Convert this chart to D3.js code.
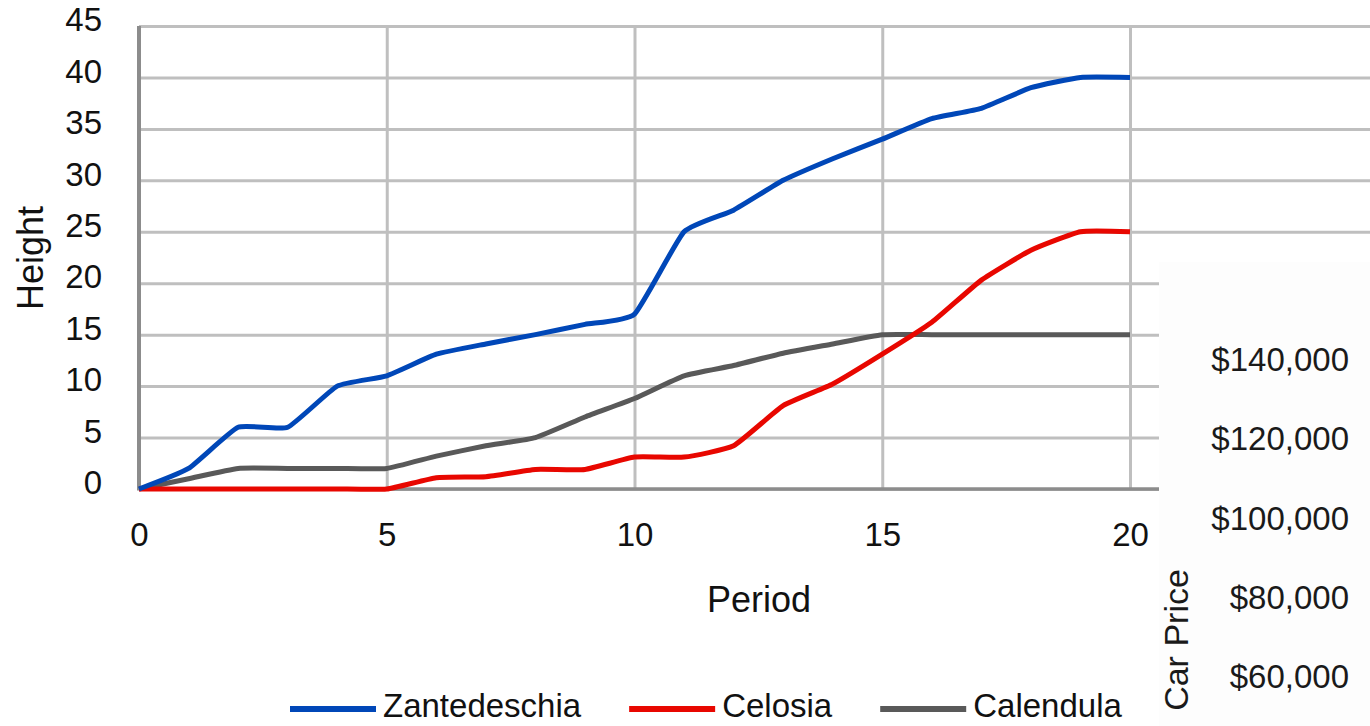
<!DOCTYPE html>
<html>
<head>
<meta charset="utf-8">
<script src="https://cdn.jsdelivr.net/npm/d3@7"></script>
<style>
  html, body { margin: 0; padding: 0; background: #ffffff; }
  svg { display: block; font-family: "Liberation Sans", Arial, sans-serif; }
</style>
</head>
<body>
<svg id="chart" width="1370" height="726"></svg>
<script>
// ---- data ----
const periods = [0,1,2,3,4,5,6,7,8,9,10,11,12,13,14,15,16,17,18,19,20];
const zantedeschia = [0,2,6,6,10,11,13.1,14.1,15,16,17,25,27.1,30,32.1,34,36,37,39,40,40];
const celosia      = [0,0,0,0,0,0,1.1,1.2,1.9,1.9,3.1,3.1,4.2,8.1,10.2,13.1,16.2,20.3,23.2,25,25];
const calendula    = [0,1,2,2,2,2,3.2,4.2,5,7,8.8,11,12,13.2,14.1,15,15,15,15,15,15];
const seriesNames  = ["Zantedeschia","Celosia","Calendula"];
const seriesColors = ["#0047b8","#e80700","#595959"];
const xTicks = [0,5,10,15,20];
const yTicks = [0,5,10,15,20,25,30,35,40,45];
const priceTicks = ["$140,000","$120,000","$100,000","$80,000","$60,000"];
const priceValues = [140000,120000,100000,80000,60000];

const svg = d3.select("#chart");
const W = 1370, H = 726;

const x = d3.scaleLinear().domain([0,20]).range([139,1130]);
const y = d3.scaleLinear().domain([0,45]).range([489,26]);

// gridlines + y labels via axis
const yAxis = d3.axisLeft(y).tickValues(yTicks).tickSize(-(W-139)).tickPadding(37).tickFormat(d3.format("d"));
const gy = svg.append("g").attr("transform","translate(139,0)").call(yAxis);
gy.select(".domain").remove();
gy.selectAll(".tick line").attr("stroke","#bfbfbf").attr("stroke-width",3);
gy.selectAll(".tick text").attr("font-size",33).attr("fill","#111").attr("font-family","Liberation Sans, Arial, sans-serif").attr("dy","-0.12em").attr("dominant-baseline","middle");

const xAxis = d3.axisBottom(x).tickValues(xTicks).tickSize(-(489-26)).tickPadding(0).tickFormat(d3.format("d"));
const gx = svg.append("g").attr("transform","translate(0,489)").call(xAxis);
gx.select(".domain").remove();
gx.selectAll(".tick line").attr("stroke","#bfbfbf").attr("stroke-width",3);
gx.selectAll(".tick").filter(d => d === 0).select("line").remove();
gx.selectAll(".tick text").attr("font-size",33).attr("fill","#111").attr("font-family","Liberation Sans, Arial, sans-serif").attr("dy",null).attr("y",57);

// axis lines
svg.append("line").attr("x1",139).attr("x2",W).attr("y1",y(0)).attr("y2",y(0)).attr("stroke","#8c8c8c").attr("stroke-width",3.5);
svg.append("line").attr("x1",139).attr("x2",139).attr("y1",y(45)).attr("y2",y(0)+1.5).attr("stroke","#8c8c8c").attr("stroke-width",4);

// series lines
const allSeries = [zantedeschia, celosia, calendula];
const line = d3.line().x((d,i) => x(periods[i])).y(d => y(d)).curve(d3.curveCardinal.tension(0.55));
allSeries.slice().reverse().forEach((s, ri) => {
  const i = allSeries.length - 1 - ri;
  svg.append("path").datum(s).attr("d", line).attr("fill","none")
     .attr("stroke", seriesColors[i]).attr("stroke-width",5).attr("stroke-linejoin","round");
});

// axis titles
svg.append("text").attr("x",759).attr("y",612).attr("text-anchor","middle")
   .attr("font-size",36).attr("fill","#111").text("Period");
svg.append("text").attr("transform","translate(43,258) rotate(-90)").attr("text-anchor","middle")
   .attr("font-size",36).attr("fill","#111").text("Height");

// legend
const lg = svg.append("g");
let lx = 290;
seriesNames.forEach((name, i) => {
  lg.append("line").attr("x1",lx).attr("x2",lx+86).attr("y1",709).attr("y2",709)
    .attr("stroke",seriesColors[i]).attr("stroke-width",6);
  const t = lg.append("text").attr("x",lx+93).attr("y",717).attr("font-size",33).attr("fill","#111").text(name);
  const w = t.node().getComputedTextLength();
  lx = lx + 93 + w + 48;
});

// overlapping secondary chart fragment (bottom-right)
svg.append("rect").attr("x",1159).attr("y",262).attr("width",W-1159).attr("height",H-262).attr("fill","#fdfdfd");
const py = d3.scaleLinear().domain([140000,60000]).range([371,688]);
svg.append("g").selectAll("text").data(priceValues).join("text")
   .attr("x",1349).attr("y",d => py(d)).attr("text-anchor","end")
   .attr("font-size",33).attr("fill","#1a1a1a")
   .text((d,i) => priceTicks[i]);
svg.append("text").attr("transform","translate(1188,640) rotate(-90)").attr("text-anchor","middle")
   .attr("font-size",34).attr("fill","#1a1a1a").text("Car Price");
</script>
</body>
</html>
